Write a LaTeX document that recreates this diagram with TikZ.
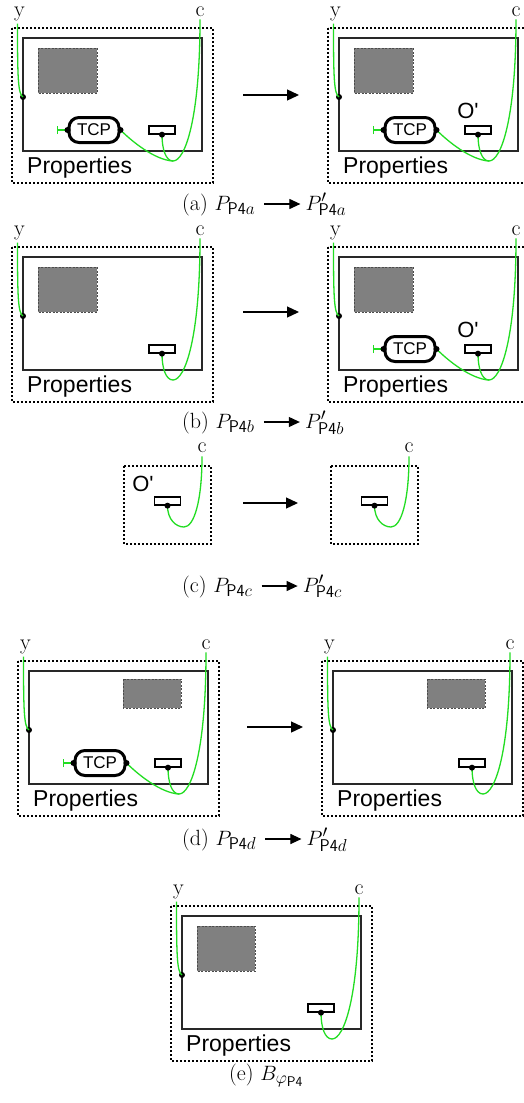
\documentclass[tikz,border=0pt]{standalone}
\usepackage{fontspec}
\newfontfamily\labelsans{Liberation Sans}[Ligatures=TeXOff]
\usetikzlibrary{arrows.meta,shapes.misc}
\DeclareMathSizes{22}{22}{17}{14}
\definecolor{wiregreen}{RGB}{34,221,34}
\definecolor{boxgray}{RGB}{128,128,128}
\definecolor{framegray}{RGB}{40,40,40}

\tikzset{
  outerbox/.style={draw=black, line width=1.1pt, dash pattern=on 2pt off 2pt},
  innerbox/.style={draw=framegray, line width=1.6pt},
  shadebox/.style={fill=boxgray, draw=black!70, line width=0.9pt, dash pattern=on 2pt off 1.5pt},
  portbox/.style={draw=black, fill=white, line width=1.3pt, minimum width=26pt, minimum height=8pt, inner sep=0pt},
  wire/.style={draw=wiregreen, line width=1.3pt},
  pin/.style={circle, fill=black, inner sep=0pt, minimum size=6pt},
  tcpbox/.style={rectangle, rounded corners=10pt,
    draw=black, line width=3pt, minimum width=50pt, minimum height=25pt, inner sep=1pt,
    font=\labelsans\fontsize{17}{19}\selectfont},
  portlabel/.style={font=\fontsize{22}{24}\selectfont, inner sep=0pt},
  proplabel/.style={font=\labelsans\fontsize{23}{26}\selectfont, anchor=base west, inner sep=0pt},
  oplabel/.style={font=\labelsans\fontsize{22}{24}\selectfont, inner sep=0pt},
  steparrow/.style={line width=1.3pt, -{Triangle[length=12pt,width=11pt]}},
  caparrow/.style={line width=1.1pt, -{Triangle[length=11pt,width=10pt]}},
  caption/.style={font=\fontsize{22}{26}\selectfont, inner sep=0pt, anchor=base west},
}

% Component frame with the y and c connections and the property label
\newcommand{\panelbase}[1]{%
  \draw[outerbox] (0,0) rectangle (201,155);
  \draw[innerbox] (11,10) rectangle (190,123);
  \node[portlabel, anchor=base] (#1y) at (7.5,-12) {y};
  \node[portlabel, anchor=base] (#1c) at (188,-12) {c};
  \node[pin] (#1ydot) at (11,69) {};
  \draw[wire, shorten <=3pt] ([xshift=-2pt]#1y.south) .. controls (5.5,50) and (6,66) .. (#1ydot.center);
  \node[portbox] (#1port) at (150,102) {};
  \coordinate (#1cb) at (161,133);
  \draw[wire] (#1port.south) .. controls +(0,15) and +(-7,0) .. (#1cb)
    .. controls +(12,0) and +(0,100) .. ([yshift=-3pt]#1c.south);
  \node[pin] (#1pdot) at (#1port.south) {};
  \node[proplabel] (#1prop) at (15,145) {Properties};
}

% TCP sub-component wired to the c connection
\newcommand{\tcpunit}[1]{%
  \node[tcpbox] (#1tcp) at (82,102) {TCP};
  \coordinate (#1tee) at ([xshift=-11pt]#1tcp.west);
  \draw[wire, {Bar[width=8pt]}-] (#1tee) -- (#1tcp.west);
  \draw[wire] (#1tcp.east) .. controls +(12,12) and +(-18,-1) .. (#1cb);
  \node[pin] (#1tl) at (#1tcp.west) {};
  \node[pin] (#1tr) at (#1tcp.east) {};
}

% Caption: left term, arrow, right term
\newcommand{\stepcaption}[4]{% #1 name, #2 base point, #3 left text, #4 right text
  \node[caption] (#1l) at #2 {#3};
  \coordinate (#1s) at ([shift={(9pt,6pt)}]#1l.base east);
  \coordinate (#1e) at ([shift={(45pt,6pt)}]#1l.base east);
  \node[caption] (#1r) at ([xshift=5pt]#1l.base east -| #1e) {#4};
  \draw[caparrow] (#1s) -- (#1e);
}

\begin{document}
\begin{tikzpicture}[x=1pt,y=-1pt]
\clip (0,0) rectangle (524,1103);
\fill[white] (0,0) rectangle (524,1103);

% ---- (a) ----
\begin{scope}[shift={(12,28)}]
  \panelbase{al}
  \draw[shadebox] (26,20) rectangle (85,65);
  \tcpunit{al}
\end{scope}
\coordinate (as) at (243,95); \coordinate (ae) at (299,95);
\draw[steparrow] (as) -- (ae);
\begin{scope}[shift={(328,28)}]
  \panelbase{ar}
  \draw[shadebox] (26,20) rectangle (85,65);
  \tcpunit{ar}
  \node[oplabel] (aro) at (140,83) {O'};
\end{scope}
\stepcaption{ca}{(182,210)}{(a)~$P_{\mathsf{P4}a}$}{$P'_{\mathsf{P4}a}$}

% ---- (b) ----
\begin{scope}[shift={(12,247)}]
  \panelbase{bl}
  \draw[shadebox] (26,20) rectangle (85,65);
\end{scope}
\coordinate (bs) at (243,312); \coordinate (be) at (299,312);
\draw[steparrow] (bs) -- (be);
\begin{scope}[shift={(328,247)}]
  \panelbase{br}
  \draw[shadebox] (26,20) rectangle (85,65);
  \tcpunit{br}
  \node[oplabel] (bro) at (140,83) {O'};
\end{scope}
\stepcaption{cb}{(182,428)}{(b)~$P_{\mathsf{P4}b}$}{$P'_{\mathsf{P4}b}$}

% ---- (c) ----
\begin{scope}[shift={(124,466)}]
  \draw[outerbox] (0,0) rectangle (87,78);
  \node[portlabel, anchor=base] (clc) at (78,-14) {c};
  \node[portbox] (clport) at (43.5,35) {};
  \coordinate (clcb) at (60,61);
  \draw[wire] (clport.south) .. controls +(0,14) and +(-8,0) .. (clcb)
    .. controls +(10,0) and +(0,45) .. ([yshift=-4pt]clc.south);
  \node[pin] (clpdot) at (clport.south) {};
  \node[oplabel] (clo) at (19,18) {O'};
\end{scope}
\coordinate (cs) at (243,503); \coordinate (ce) at (298,503);
\draw[steparrow] (cs) -- (ce);
\begin{scope}[shift={(331,466)}]
  \draw[outerbox] (0,0) rectangle (87,78);
  \node[portlabel, anchor=base] (crc) at (78,-14) {c};
  \node[portbox] (crport) at (43.5,35) {};
  \coordinate (crcb) at (60,61);
  \draw[wire] (crport.south) .. controls +(0,14) and +(-8,0) .. (crcb)
    .. controls +(10,0) and +(0,45) .. ([yshift=-4pt]crc.south);
  \node[pin] (crpdot) at (crport.south) {};
\end{scope}
\stepcaption{cc}{(182,592)}{(c)~$P_{\mathsf{P4}c}$}{$P'_{\mathsf{P4}c}$}

% ---- (d) ----
\begin{scope}[shift={(18,661)}]
  \panelbase{dl}
  \draw[shadebox] (105,18) rectangle (163,47);
  \tcpunit{dl}
\end{scope}
\coordinate (ds) at (247,727); \coordinate (de) at (303,727);
\draw[steparrow] (ds) -- (de);
\begin{scope}[shift={(322,661)}]
  \panelbase{dr}
  \draw[shadebox] (105,18) rectangle (163,47);
\end{scope}
\stepcaption{cd}{(182,845)}{(d)~$P_{\mathsf{P4}d}$}{$P'_{\mathsf{P4}d}$}

% ---- (e) ----
\begin{scope}[shift={(171,906)}]
  \panelbase{e}
  \draw[shadebox] (26,20) rectangle (84,65);
\end{scope}
\node[caption] (ce) at (229,1080) {(e)~$B_{\varphi_{\mathsf{P4}}}$};
\end{tikzpicture}
\end{document}
